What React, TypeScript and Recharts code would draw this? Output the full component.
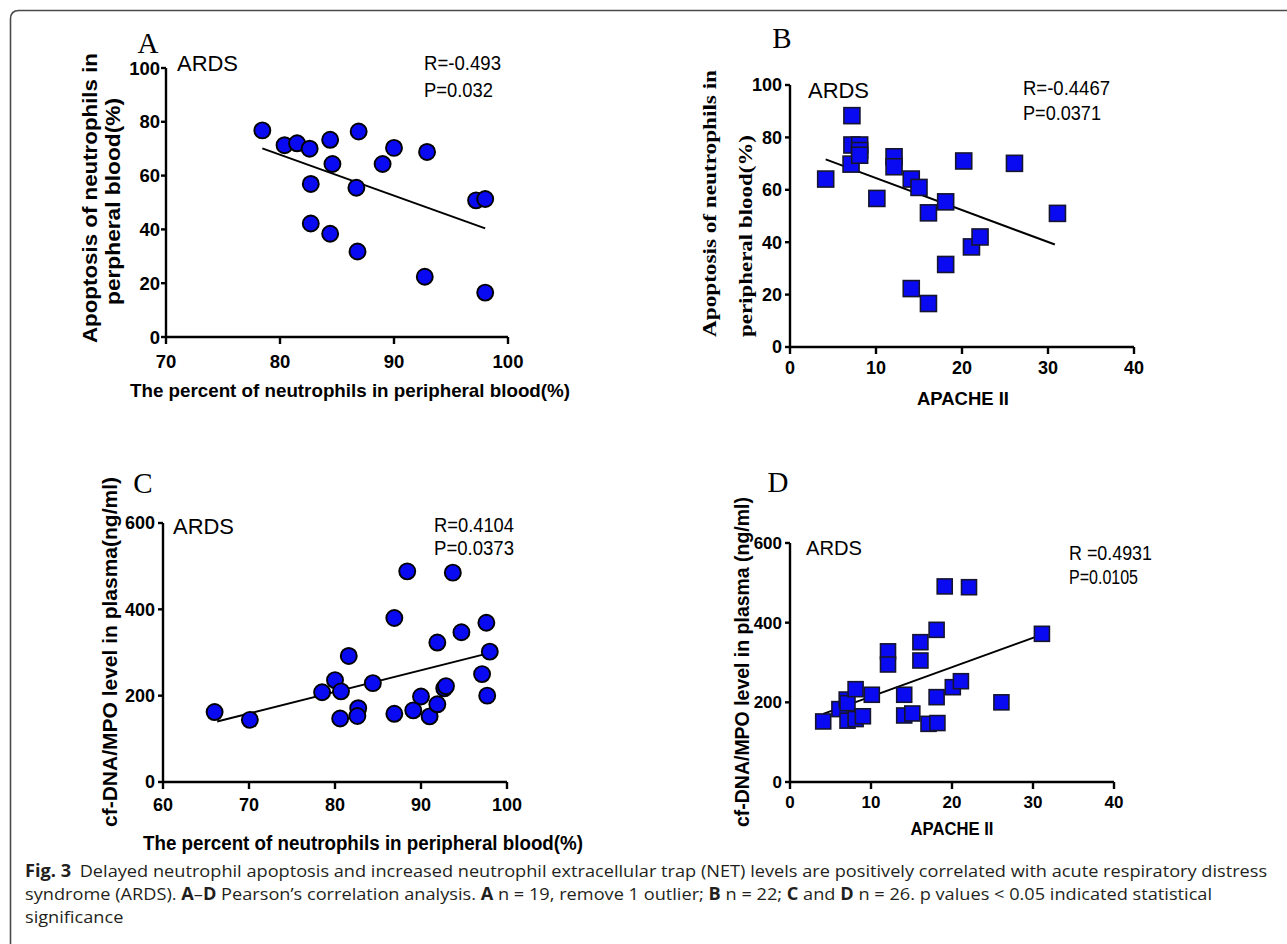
import React from "react";
import { ScatterChart, Scatter, XAxis, YAxis } from "recharts";

// ---------------- DATA ----------------
// Panel A: % neutrophils vs apoptosis (circles)
const aX = [78.45, 80.4, 81.5, 82.6, 84.4, 84.6, 82.7, 82.7, 84.4, 86.9, 86.7, 86.8, 89.0, 90.0, 92.9, 92.7, 97.2, 98.0, 98.0];
const aY = [76.8, 71.3, 72.0, 70.0, 73.3, 64.3, 56.9, 42.2, 38.4, 76.4, 55.5, 31.8, 64.3, 70.3, 68.8, 22.4, 50.8, 51.3, 16.5];
const aFitX = [78.45, 98.0];
const aFitY = [70.1, 40.4];
const aXTicks = [70, 80, 90, 100];
const aYTicks = [0, 20, 40, 60, 80, 100];

// Panel B: APACHE II vs apoptosis (squares)
const bX = [4.15, 7.2, 7.2, 7.1, 8.1, 8.1, 8.1, 10.1, 12.1, 12.1, 14.1, 15.0, 16.1, 18.1, 18.1, 14.1, 16.1, 20.2, 21.1, 22.1, 26.1, 31.1];
const bY = [64.1, 88.3, 77.1, 69.8, 77.1, 75.0, 73.2, 56.7, 72.6, 68.8, 64.1, 60.9, 51.2, 55.4, 31.5, 22.3, 16.6, 71.0, 38.2, 42.0, 70.1, 51.0];
const bFitX = [4.15, 30.8];
const bFitY = [71.6, 39.1];
const bXTicks = [0, 10, 20, 30, 40];
const bYTicks = [0, 20, 40, 60, 80, 100];

// Panel C: % neutrophils vs cf-DNA/MPO (circles)
const cX = [66.0, 70.1, 78.5, 80.0, 80.7, 80.6, 81.6, 82.7, 82.6, 84.4, 86.9, 86.9, 88.4, 89.1, 90.0, 91.0, 91.9, 91.9, 92.7, 92.9, 93.7, 94.7, 97.1, 97.6, 98.0, 97.7];
const cY = [162, 144, 208, 236, 210, 147, 292, 171, 153, 229, 380, 158, 488, 166, 198, 152, 180, 323, 217, 222, 485, 347, 250, 369, 302, 200];
const cFitX = [66.3, 97.8];
const cFitY = [140, 298];
const cXTicks = [60, 70, 80, 90, 100];
const cYTicks = [0, 200, 400, 600];

// Panel D: APACHE II vs cf-DNA/MPO (squares)
const dX = [4.1, 6.1, 7.0, 7.1, 7.1, 8.1, 8.1, 9.0, 10.1, 12.1, 12.1, 14.1, 14.1, 15.1, 16.1, 16.1, 17.1, 18.1, 18.1, 18.2, 19.1, 20.1, 21.1, 22.1, 26.1, 31.1];
const dY = [152, 183, 207, 198, 154, 158, 233, 165, 219, 328, 295, 219, 167, 172, 351, 305, 146, 382, 213, 148, 491, 238, 253, 489, 200, 372];
const dFitX = [4.1, 31.1];
const dFitY = [171, 370];
const dXTicks = [0, 10, 20, 30, 40];
const dYTicks = [0, 200, 400, 600];

const toPts = (xs: number[], ys: number[]) => xs.map((x, i) => ({ x, y: ys[i] }));

// ---------------- STYLE ----------------
const W = 1287;
const H = 944;
const SANS = "'Liberation Sans', Arial, sans-serif";
const SERIF = "'Liberation Serif', 'Times New Roman', serif";
const CAP = "'Open Sans', 'Noto Sans', sans-serif";
const BLUE = "#0a0af2";
const CAP_SCALE = 1.07;

const CircleDot = (props: any) => {
  const { cx, cy } = props;
  if (cx == null || cy == null) return <g />;
  return <circle cx={cx} cy={cy} r={8} fill={BLUE} stroke="#000" strokeWidth={1.9} />;
};
const makeSquare = (size: number) => (props: any) => {
  const { cx, cy } = props;
  if (cx == null || cy == null) return <g />;
  return (
    <rect x={cx - size / 2} y={cy - size / 2} width={size} height={size} fill={BLUE} stroke="#151530" strokeWidth={1.6} />
  );
};
const NoDot = () => <g />;

type PanelProps = {
  left: number; right: number; top: number; bottom: number;
  xDomain: [number, number]; yDomain: [number, number];
  xTicks: number[]; yTicks: number[];
  pts: { x: number; y: number }[];
  fit: { x: number; y: number }[];
  shape: any;
  fontSize: number;
  xMargin: number;
  yMargin: number;
};

const YW = 60;
const XH = 40;

function Panel(p: PanelProps) {
  const tickStyle = { fill: "#000", fontSize: p.fontSize, fontWeight: "bold", fontFamily: SANS };
  return (
    <div style={{ position: "absolute", left: 0, top: 0, width: W, height: H }}>
      <ScatterChart
        width={W}
        height={H}
        margin={{ top: p.top, right: W - p.right, bottom: H - p.bottom - XH, left: p.left - YW }}
      >
        <XAxis
          type="number"
          dataKey="x"
          domain={p.xDomain}
          ticks={p.xTicks}
          allowDataOverflow
          height={XH}
          tick={tickStyle}
          tickSize={7}
          tickMargin={p.xMargin}
          axisLine={{ stroke: "#000", strokeWidth: 2.4 }}
          tickLine={{ stroke: "#000", strokeWidth: 2.4 }}
        />
        <YAxis
          type="number"
          dataKey="y"
          domain={p.yDomain}
          ticks={p.yTicks}
          allowDataOverflow
          width={YW}
          tick={tickStyle}
          tickSize={5}
          tickMargin={p.yMargin}
          axisLine={{ stroke: "#000", strokeWidth: 2.4 }}
          tickLine={{ stroke: "#000", strokeWidth: 2.4 }}
        />
        <Scatter data={p.fit} shape={NoDot} line={{ stroke: "#000", strokeWidth: 2 }} lineType="joint" isAnimationActive={false} />
        <Scatter data={p.pts} shape={p.shape} isAnimationActive={false} />
      </ScatterChart>
    </div>
  );
}

function HT(props: { x: number; y: number; size: number; family?: string; weight?: string; anchor?: string; len?: number; children: any }) {
  const { x, y, size, family = SANS, weight = "normal", anchor = "start", len, children } = props;
  return (
    <text
      x={x}
      y={y + size * 0.36}
      fontSize={size}
      fontFamily={family}
      fontWeight={weight}
      textAnchor={anchor}
      fill="#000"
      {...(len ? { textLength: len, lengthAdjust: "spacingAndGlyphs" } : {})}
    >
      {children}
    </text>
  );
}

function VT(props: { cx: number; cy: number; size: number; family?: string; weight?: string; anchor?: string; len?: number; children: any }) {
  const { cx, cy, size, family = SANS, weight = "bold", anchor = "middle", len, children } = props;
  return (
    <text
      transform={`translate(${cx},${cy}) rotate(-90)`}
      x={0}
      y={size * 0.36}
      fontSize={size}
      fontFamily={family}
      fontWeight={weight}
      textAnchor={anchor}
      fill="#000"
      {...(len ? { textLength: len, lengthAdjust: "spacingAndGlyphs" } : {})}
    >
      {children}
    </text>
  );
}

export default function App() {
  return (
    <div style={{ position: "absolute", left: 0, top: 0, width: W, height: H, background: "#fff", overflow: "hidden" }}>
      <Panel left={166} right={508} top={68} bottom={337} xDomain={[70, 100]} yDomain={[0, 100]}
        xTicks={aXTicks} yTicks={aYTicks} pts={toPts(aX, aY)} fit={toPts(aFitX, aFitY)} shape={CircleDot}
        fontSize={18.5} xMargin={11} yMargin={1} />
      <Panel left={790} right={1134} top={85} bottom={347} xDomain={[0, 40]} yDomain={[0, 100]}
        xTicks={bXTicks} yTicks={bYTicks} pts={toPts(bX, bY)} fit={toPts(bFitX, bFitY)} shape={makeSquare(16)}
        fontSize={18} xMargin={7} yMargin={3} />
      <Panel left={163} right={507} top={523} bottom={782} xDomain={[60, 100]} yDomain={[0, 600]}
        xTicks={cXTicks} yTicks={cYTicks} pts={toPts(cX, cY)} fit={toPts(cFitX, cFitY)} shape={CircleDot}
        fontSize={18} xMargin={9} yMargin={3} />
      <Panel left={790} right={1114} top={543} bottom={782} xDomain={[0, 40]} yDomain={[0, 600]}
        xTicks={dXTicks} yTicks={dYTicks} pts={toPts(dX, dY)} fit={toPts(dFitX, dFitY)} shape={makeSquare(15)}
        fontSize={17} xMargin={7} yMargin={3} />

      <svg width={W} height={H} style={{ position: "absolute", left: 0, top: 0 }}>
        <path d="M10.5 944 L10.5 19 Q10.5 10.5 19 10.5 L1287 10.5" fill="none" stroke="#4a4a4a" strokeWidth={1.6} />

        {/* Panel A */}
        <HT x={148} y={43} size={29} family={SERIF} anchor="middle">A</HT>
        <HT x={177} y={63} size={22} len={61}>ARDS</HT>
        <HT x={424} y={63} size={19.5} len={77}>R=-0.493</HT>
        <HT x={424} y={90} size={19.5} len={69}>P=0.032</HT>
        <HT x={350} y={390} size={18.5} weight="bold" anchor="middle" len={440}>The percent of neutrophils in peripheral blood(%)</HT>
        <VT cx={90} cy={198} size={19.5} len={290}>Apoptosis of neutrophils in</VT>
        <VT cx={113} cy={201.5} size={19.5} len={207}>perpheral blood(%)</VT>

        {/* Panel B */}
        <HT x={782} y={38} size={29} family={SERIF} anchor="middle">B</HT>
        <HT x={808} y={90} size={22} len={61}>ARDS</HT>
        <HT x={1023} y={88} size={19.5} len={87}>R=-0.4467</HT>
        <HT x={1023} y={113} size={19.5} len={78}>P=0.0371</HT>
        <HT x={963} y={398} size={18.5} weight="bold" anchor="middle" len={92}>APACHE II</HT>
        <VT cx={709} cy={337} size={19.5} family={SERIF} anchor="start" len={267}>Apoptosis of neutrophils in</VT>
        <VT cx={745} cy={337} size={19.5} family={SERIF} anchor="start" len={202}>peripheral blood(%)</VT>

        {/* Panel C */}
        <HT x={143} y={483} size={29} family={SERIF} anchor="middle">C</HT>
        <HT x={173} y={526} size={22} len={61}>ARDS</HT>
        <HT x={434} y={525} size={19.5} len={80}>R=0.4104</HT>
        <HT x={434} y={548} size={19.5} len={80}>P=0.0373</HT>
        <HT x={363} y={843} size={19.5} weight="bold" anchor="middle" len={440}>The percent of neutrophils in peripheral blood(%)</HT>
        <VT cx={110} cy={652} size={20} len={350}>cf-DNA/MPO level in plasma(ng/ml)</VT>

        {/* Panel D */}
        <HT x={778} y={482} size={29} family={SERIF} anchor="middle">D</HT>
        <HT x={806} y={548} size={20} len={56}>ARDS</HT>
        <HT x={1069} y={553} size={19.5} len={83}>R =0.4931</HT>
        <HT x={1069} y={577} size={19.5} len={69}>P=0.0105</HT>
        <HT x={952} y={828} size={18.5} weight="bold" anchor="middle" len={83}>APACHE II</HT>
        <VT cx={742} cy={662} size={19.5} len={330}>cf-DNA/MPO level in plasma (ng/ml)</VT>

        {/* Caption */}
        <g transform={`translate(25,0) scale(${CAP_SCALE},1)`}>
          <text x={0} y={877} fontSize={17} fontFamily={CAP} fill="#231f20">
            <tspan fontWeight="bold">Fig. 3</tspan>
            <tspan dx={8}>Delayed neutrophil apoptosis and increased neutrophil extracellular trap (NET) levels are positively correlated with acute respiratory distress</tspan>
          </text>
          <text x={0} y={900} fontSize={17} fontFamily={CAP} fill="#231f20">
            syndrome (ARDS). <tspan fontWeight="bold">A</tspan>–<tspan fontWeight="bold">D</tspan> Pearson’s correlation analysis. <tspan fontWeight="bold">A</tspan> n = 19, remove 1 outlier; <tspan fontWeight="bold">B</tspan> n = 22; <tspan fontWeight="bold">C</tspan> and <tspan fontWeight="bold">D</tspan> n = 26. p values &lt; 0.05 indicated statistical
          </text>
          <text x={0} y={923} fontSize={17} fontFamily={CAP} fill="#231f20">significance</text>
        </g>
      </svg>
    </div>
  );
}
